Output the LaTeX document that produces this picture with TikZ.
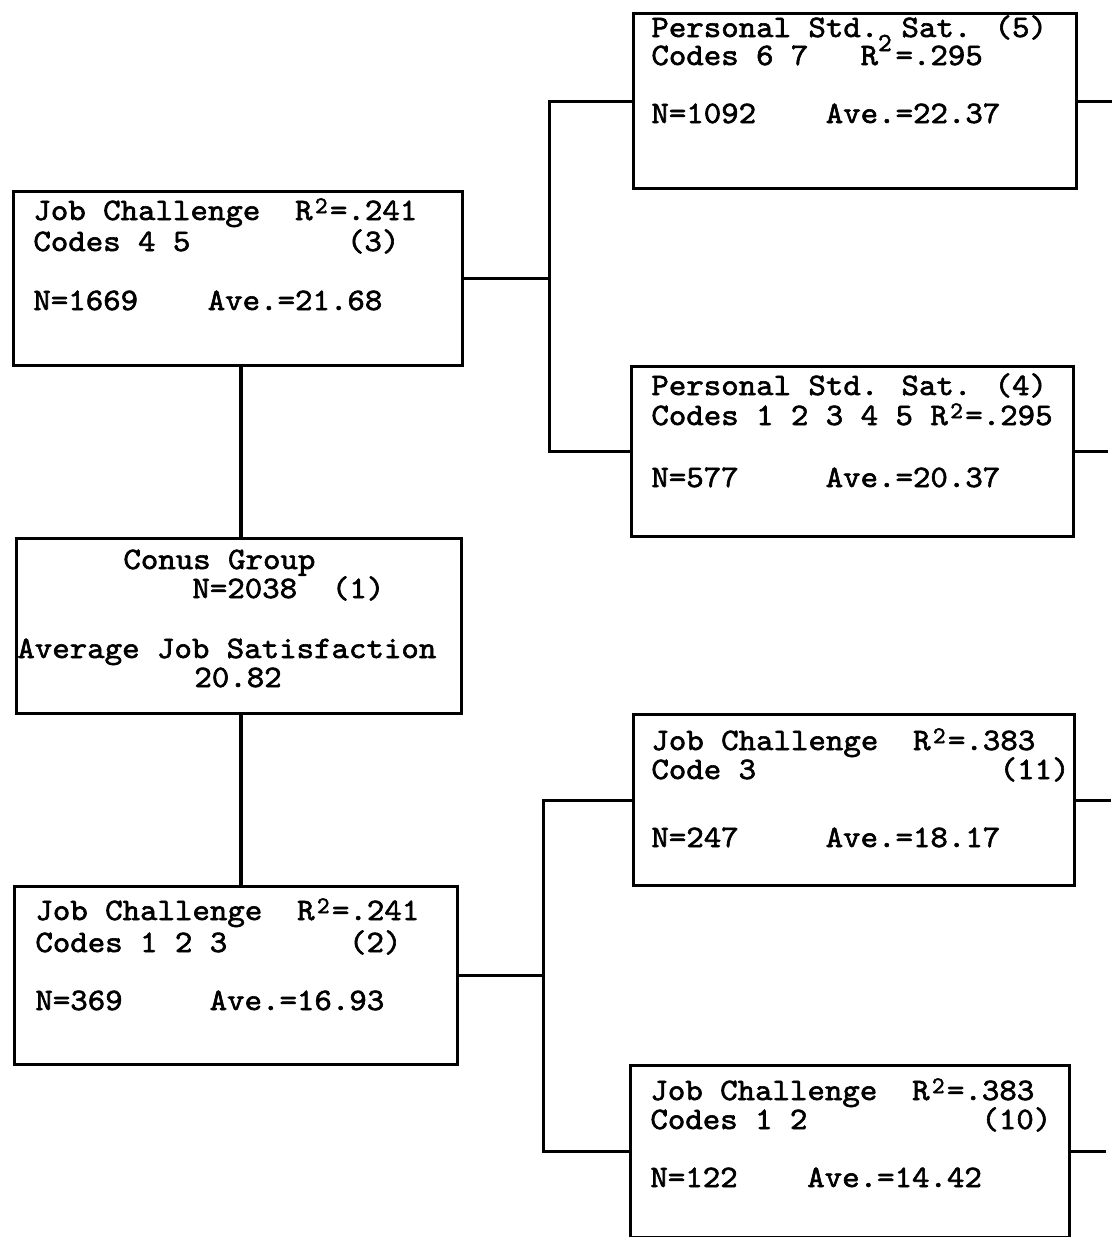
\documentclass[tikz,border=0pt]{standalone}
\usepackage{graphicx}
\font\twf="[lmmono10-regular]:embolden=1.9;extend=1.066" at 15.6pt
\fontdimen2\twf=8.7pt \fontdimen3\twf=0pt \fontdimen4\twf=0pt
\font\twsup="[lmmono10-regular]:embolden=1.9" at 12pt
\font\twsuphi="[lmmono10-regular]:embolden=1.9" at 13pt
\newcommand\tw[1]{{\twf #1}}
\newcommand\rsq{\makebox[8.7pt][c]{\raisebox{3.4pt}{\twsup 2}}}
\newcommand\rsqhi{\makebox[8.7pt][l]{\raisebox{7pt}{\twsuphi 2}}}
\begin{document}
\begin{tikzpicture}[x=0.5pt,y=-0.5pt,
  box/.style={draw, line width=1.6pt, inner sep=0pt, anchor=north west},
  txt/.style={inner sep=0pt, anchor=base west},
  conn/.style={line width=1.6pt}]
\useasboundingbox (0,0) rectangle (1112,1237);

% boxes
\node[box, minimum width=221.5pt, minimum height=87.5pt] (b5) at (632,12) {};
\node[box, minimum width=224.5pt, minimum height=87pt] (b3) at (12,190) {};
\node[box, minimum width=221pt, minimum height=85pt] (b4) at (630,365) {};
\node[box, minimum width=222.5pt, minimum height=87.5pt] (b1) at (15,537) {};
\node[box, minimum width=221.5pt, minimum height=89pt] (b2) at (13,885) {};
\node[box, minimum width=220.5pt, minimum height=85.5pt] (b11) at (632,713) {};
\node[box, minimum width=219.5pt, minimum height=86pt] (b10) at (629,1064) {};

% texts
\node[txt] (t5a) at (651,37) {\tw{Personal Std. Sat. (5)}};
\node[txt] (t5b) at (651,65) {\tw{Codes 6 7~~~R\rsqhi=.295}};
\node[txt] (t5c) at (651,123) {\tw{N=1092~~~~Ave.=22.37}};

\node[txt] (t3a) at (33,220) {\tw{Job Challenge~~R\rsq=.241}};
\node[txt] (t3b) at (33,251) {\tw{Codes 4 5~~~~~~~~~(3)}};
\node[txt] (t3c) at (33,310) {\tw{N=1669~~~~Ave.=21.68}};

\node[txt] (t4a) at (651,395) {\tw{Personal Std. Sat. (4)}};
\node[txt] (t4b) at (651,425) {\tw{Codes 1 2 3 4 5 R\rsq=.295}};
\node[txt] (t4c) at (651,487) {\tw{N=577~~~~~Ave.=20.37}};

\node[txt] (t1a) at (123,569) {\tw{Conus Group}};
\node[txt] (t1b) at (192,598) {\tw{N=2038~~(1)}};
\node[txt] (t1c) at (17,658) {\tw{Average Job Satisfaction}};
\node[txt] (t1d) at (194,687) {\tw{20.82}};

\node[txt] (t2a) at (35,920) {\tw{Job Challenge~~R\rsq=.241}};
\node[txt] (t2b) at (35,952) {\tw{Codes 1 2 3~~~~~~~(2)}};
\node[txt] (t2c) at (35,1010) {\tw{N=369~~~~~Ave.=16.93}};

\node[txt] (t11a) at (651,750) {\tw{Job Challenge~~R\rsq=.383}};
\node[txt] (t11b) at (651,779) {\tw{Code 3~~~~~~~~~~~~~~(11)}};
\node[txt] (t11c) at (651,847) {\tw{N=247~~~~~Ave.=18.17}};

\node[txt] (t10a) at (650,1100) {\tw{Job Challenge~~R\rsq=.383}};
\node[txt] (t10b) at (650,1129) {\tw{Codes 1 2~~~~~~~~~~(10)}};
\node[txt] (t10c) at (650,1187) {\tw{N=122~~~~Ave.=14.42}};

% connectors
\coordinate (vx) at (241,0);
\draw[conn] (b3.south -| vx) -- (b1.north -| vx);
\draw[conn] (b1.south -| vx) -- (b2.north -| vx);

\draw[conn] (b3.east) -- ++(85,0) coordinate (j1);
\draw[conn] (b5.west) -| (j1) |- (b4.west);

\draw[conn] (b2.east) -- ++(84,0) coordinate (j2);
\draw[conn] (b11.west) -| (j2) |- (b10.west);

\draw[conn] (b5.east) -- ++(40,0);
\draw[conn] (b4.east) -- ++(33,0);
\draw[conn] (b11.east) -- ++(35,0);
\draw[conn] (b10.east) -- ++(35,0);
\end{tikzpicture}
\end{document}
